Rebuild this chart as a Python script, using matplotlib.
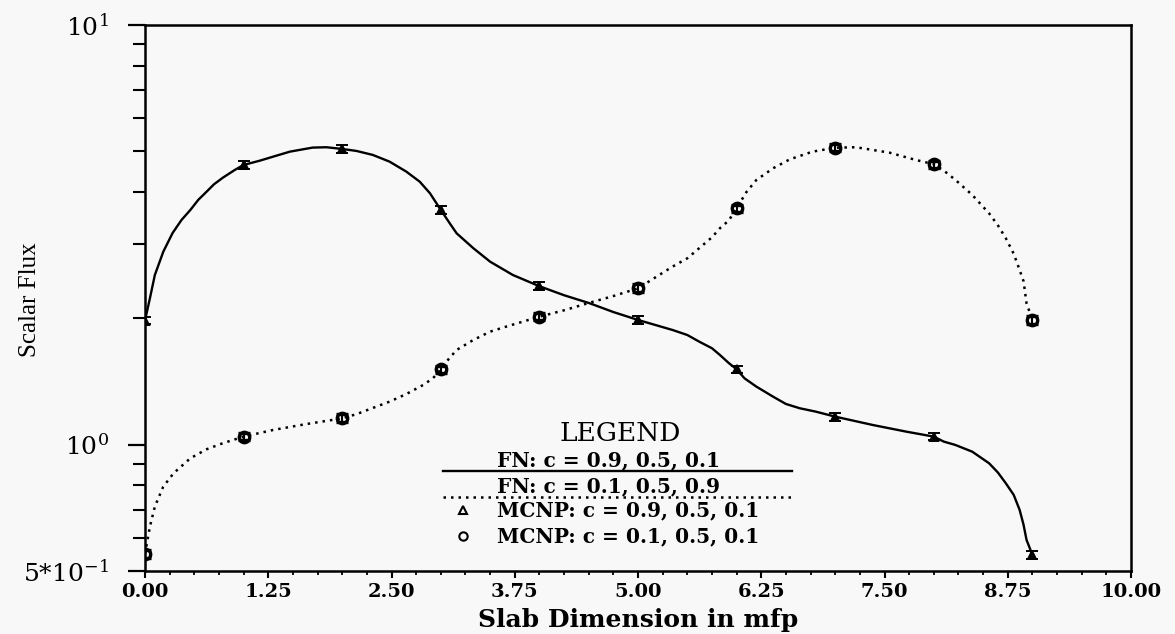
import numpy as np
import matplotlib
matplotlib.use("Agg")
import matplotlib.pyplot as plt
from matplotlib.ticker import MultipleLocator, FixedLocator, NullFormatter, FormatStrFormatter
from matplotlib.lines import Line2D

plt.rcParams["mathtext.fontset"] = "dejavuserif"

# ---- data ----------------------------------------------------------------
# FN solution, c = 0.9, 0.5, 0.1 (solid curve)
fn1_x = [0.0, 0.05, 0.10, 0.186, 0.28, 0.37, 0.46, 0.54, 0.625, 0.70, 0.79, 0.91, 1.0,
         1.165, 1.30, 1.47, 1.70, 1.84, 2.0, 2.145, 2.31, 2.48, 2.65, 2.786, 2.89, 3.0,
         3.09, 3.16, 3.33, 3.50, 3.73, 4.0, 4.25, 4.51, 4.75, 5.0, 5.35, 5.5, 5.62,
         5.75, 5.83, 5.92, 6.0, 6.08, 6.20, 6.37, 6.5, 6.64, 6.8, 7.0, 7.38, 7.72, 8.0,
         8.1, 8.22, 8.39, 8.56, 8.65, 8.73, 8.81, 8.87, 8.91, 8.94, 9.0]
fn1_y = [1.975, 2.233, 2.537, 2.884, 3.194, 3.43, 3.624, 3.83, 4.007, 4.173, 4.327,
         4.513, 4.64, 4.75, 4.856, 4.991, 5.103, 5.113, 5.065, 5.01, 4.902, 4.725,
         4.473, 4.233, 3.972, 3.624, 3.37, 3.189, 2.938, 2.729, 2.537, 2.385, 2.27,
         2.172, 2.07, 1.982, 1.876, 1.825, 1.760, 1.697, 1.636, 1.565, 1.512, 1.439,
         1.375, 1.301, 1.25, 1.221, 1.199, 1.166, 1.114, 1.074, 1.045, 1.017, 0.998,
         0.962, 0.903, 0.858, 0.809, 0.759, 0.699, 0.644, 0.593, 0.546]

# FN solution, c = 0.1, 0.5, 0.9 (dotted curve)
fn2_x = [0.0, 0.05, 0.10, 0.185, 0.29, 0.46, 0.625, 0.79, 1.0, 1.30, 1.64, 1.94, 2.0,
         2.14, 2.48, 2.65, 2.82, 2.92, 3.0, 3.08, 3.16, 3.33, 3.5, 3.66, 4.0, 4.25,
         4.51, 4.75, 5.0, 5.35, 5.5, 5.62, 5.75, 5.83, 5.92, 6.0, 6.1, 6.20, 6.37,
         6.54, 6.77, 7.0, 7.21, 7.55, 7.82, 8.0, 8.1, 8.22, 8.39, 8.56, 8.65, 8.73,
         8.81, 8.87, 8.91, 8.94, 9.0]
fn2_y = [0.549, 0.638, 0.712, 0.794, 0.855, 0.928, 0.975, 1.008, 1.045, 1.084, 1.120,
         1.149, 1.156, 1.181, 1.266, 1.32, 1.387, 1.439, 1.512, 1.60, 1.681, 1.776,
         1.859, 1.910, 2.018, 2.09, 2.179, 2.26, 2.358, 2.656, 2.78, 2.938, 3.12,
         3.278, 3.42, 3.659, 4.0, 4.272, 4.556, 4.786, 4.991, 5.100, 5.113, 4.963,
         4.767, 4.658, 4.5, 4.272, 3.935, 3.558, 3.33, 3.103, 2.85, 2.608, 2.45,
         2.172, 1.982]

# MCNP tallies
mc_x = [0, 1, 2, 3, 4, 5, 6, 7, 8, 9]
mc1_y = [1.975, 4.64, 5.065, 3.624, 2.385, 1.982, 1.512, 1.166, 1.045, 0.546]
mc1_err = [0.04, 0.09, 0.10, 0.07, 0.05, 0.04, 0.03, 0.025, 0.02, 0.012]
mc2_y = [0.549, 1.045, 1.156, 1.512, 2.018, 2.358, 3.659, 5.100, 4.658, 1.982]
mc2_err = [0.012, 0.02, 0.025, 0.03, 0.04, 0.05, 0.07, 0.10, 0.09, 0.04]

ytick_vals = [0.5, 1.0, 10.0]
ytick_labels = [r"5*10$^{-1}$", r"10$^{0}$", r"10$^{1}$"]
legend_labels = ["FN: c = 0.9, 0.5, 0.1", "FN: c = 0.1, 0.5, 0.9",
                 "MCNP: c = 0.9, 0.5, 0.1", "MCNP: c = 0.1, 0.5, 0.1"]

bg = "#f7f8f7"
fig = plt.figure(figsize=(11.75, 6.34), dpi=100, facecolor=bg)
ax = fig.add_axes([0.1234, 0.0994, 0.8392, 0.8612], facecolor=bg)

ax.plot(fn1_x, fn1_y, color="black", lw=1.7, solid_joinstyle="round")
ax.plot(fn2_x, fn2_y, color="black", lw=1.8, ls=(0, (1, 2)))
ax.errorbar(mc_x, mc1_y, yerr=mc1_err, fmt="^", ms=6, mfc="black", mec="black",
            mew=1.4, ecolor="black", elinewidth=1.5, capsize=4.5, capthick=1.8)
ax.errorbar(mc_x, mc2_y, yerr=mc2_err, fmt="o", ms=7.5, mfc="none", mec="black",
            mew=2.4, ecolor="black", elinewidth=1.5, capsize=4.5, capthick=1.6)

ax.set_yscale("log")
ax.set_xlim(0, 10)
ax.set_ylim(0.5, 10)

ax.xaxis.set_major_locator(MultipleLocator(1.25))
ax.xaxis.set_minor_locator(MultipleLocator(0.25))
ax.xaxis.set_major_formatter(FormatStrFormatter("%.2f"))
ax.yaxis.set_major_locator(FixedLocator(ytick_vals))
ax.yaxis.set_minor_locator(FixedLocator([0.6, 0.7, 0.8, 0.9, 2, 3, 4, 5, 6, 7, 8, 9]))
ax.yaxis.set_minor_formatter(NullFormatter())
ax.set_yticklabels(ytick_labels)

for s in ax.spines.values():
    s.set_linewidth(1.8)
ax.tick_params(axis="x", which="major", direction="out", length=5, width=1.5, pad=4,
               labelsize=14)
ax.tick_params(axis="x", which="minor", direction="out", length=3, width=1.3)
ax.tick_params(axis="y", which="major", direction="out", length=12, width=1.6, pad=14,
               labelsize=18)
ax.tick_params(axis="y", which="minor", direction="out", length=8.5, width=1.5)
for t in ax.get_xticklabels():
    t.set_family("DejaVu Serif")
    t.set_fontweight("bold")
for t in ax.get_yticklabels():
    t.set_family("DejaVu Serif")

ax.set_xlabel("Slab Dimension in mfp", family="DejaVu Serif", fontsize=18,
              fontweight="bold", va="baseline")
ax.xaxis.set_label_coords(0.5, -0.1026)
ax.set_ylabel("Scalar Flux", family="Liberation Serif", fontsize=18,
              ha="center", va="center")
ax.yaxis.set_label_coords(-0.117, 0.496)

# ---- hand-drawn legend block ---------------------------------------------
tr = ax.transAxes
entry_font = dict(family="DejaVu Serif", fontsize=14.5, fontweight="bold")
ax.text(0.4817, 0.2527, "LEGEND", transform=tr, ha="center", va="center",
        family="DejaVu Serif", fontsize=19)
ax.text(0.357, 0.2033, legend_labels[0], transform=tr, ha="left", va="center",
        **entry_font)
ax.add_line(Line2D([0.3022, 0.6562], [0.1832, 0.1832], transform=tr,
                   color="black", lw=1.7))
ax.text(0.357, 0.1557, legend_labels[1], transform=tr, ha="left", va="center",
        **entry_font)
ax.add_line(Line2D([0.3022, 0.6562], [0.1355, 0.1355], transform=tr,
                   color="black", lw=1.8, ls=(0, (1, 2))))
ax.add_line(Line2D([0.3225], [0.1117], transform=tr, marker="^", ms=6,
                   mfc="none", mec="black", mew=1.5, ls="none"))
ax.text(0.357, 0.1117, legend_labels[2], transform=tr, ha="left", va="center",
        **entry_font)
ax.add_line(Line2D([0.3225], [0.0641], transform=tr, marker="o", ms=6,
                   mfc="none", mec="black", mew=1.5, ls="none"))
ax.text(0.357, 0.0641, legend_labels[3], transform=tr, ha="left", va="center",
        **entry_font)

fig.savefig("out.png", dpi=100, facecolor=bg)
